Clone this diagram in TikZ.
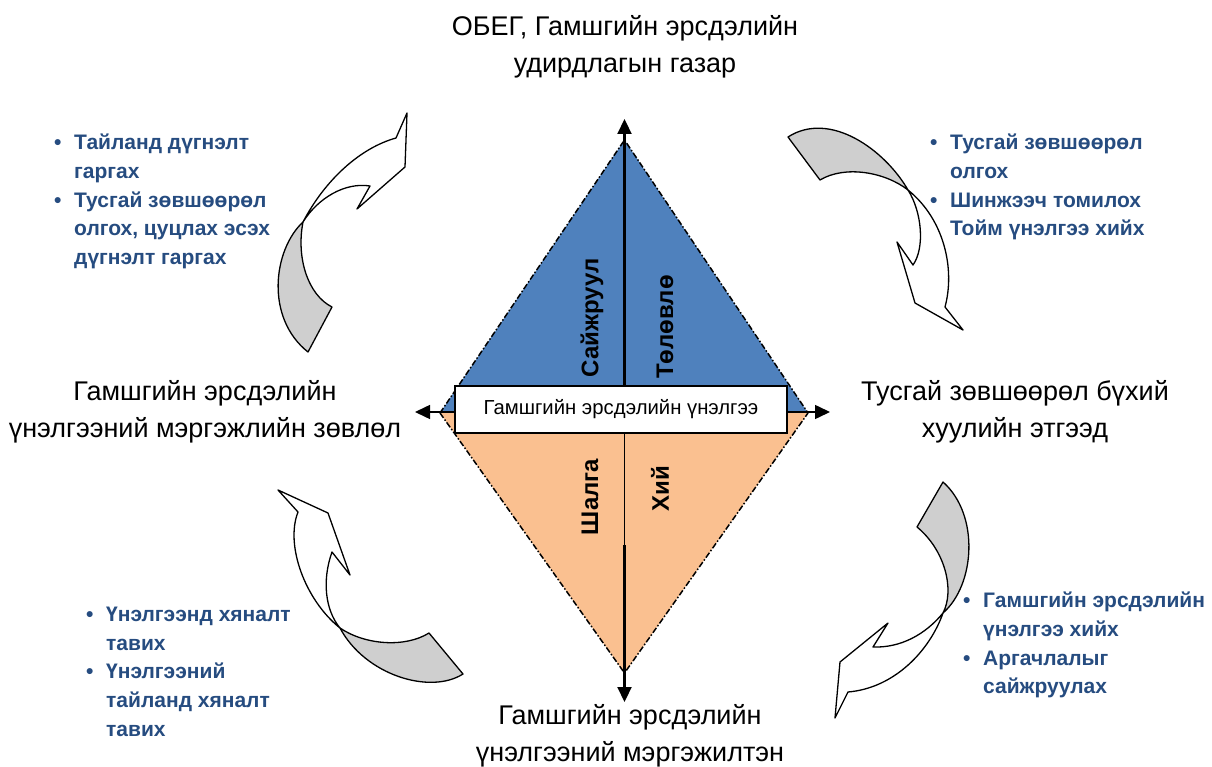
\documentclass[tikz,border=0pt]{standalone}
\usepackage{fontspec}
\setmainfont{Liberation Sans}
\usepackage{xcolor}
\usetikzlibrary{arrows.meta}

\definecolor{triblue}{HTML}{4F81BD}
\definecolor{triorange}{HTML}{FAC090}
\definecolor{listblue}{RGB}{38,76,128}
\definecolor{bentgray}{HTML}{CFCFCF}

\newcommand{\bul}{\makebox[20pt][l]{\textbullet}}
\newcommand{\nobul}{\hspace*{20pt}}

\begin{document}
\begin{tikzpicture}[x=1pt, y=-1pt,
  lbl/.style={align=center, font=\fontsize{27}{37}\selectfont},
  blist/.style={anchor=north west, inner sep=0pt, align=left, text=listblue,
    font=\fontsize{21}{28.6}\selectfont\bfseries},
  rotlbl/.style={rotate=90, font=\fontsize{24}{26}\selectfont\bfseries},
  edge/.style={line width=1.5pt, dash pattern=on 6pt off 2pt on 1.5pt off 2pt},
  axis/.style={line width=2.2pt, -{Triangle[length=15pt,width=14pt]}},
  bent/.style={draw, line width=1.3pt, line join=round}]
  \useasboundingbox (0,0) rectangle (1212,767);

  \coordinate (dtop) at (624.5,140);
  \coordinate (dleft) at (440,413);
  \coordinate (dright) at (808,413);
  \coordinate (dbot) at (624.5,673);
  \coordinate (vtop) at (624.5,119);
  \coordinate (vmid) at (624.5,545);
  \coordinate (vbot) at (624.5,702);
  \coordinate (hl) at (415,412);
  \coordinate (hr) at (830,412);

  \fill[triblue] (dtop) -- (dleft) -- (dright) -- cycle;
  \fill[triorange] (dleft) -- (dbot) -- (dright) -- cycle;
  \draw[edge] (dleft) -- (dtop) -- (dright);
  \draw[edge] (dleft) -- (dbot) -- (dright);

  \draw[line width=1.5pt, {Triangle[length=15pt,width=14pt]}-{Triangle[length=15pt,width=14pt]}] (hl) -- (hr);

  \node[draw, fill=white, line width=1.2pt, minimum width=332pt, minimum height=47pt,
    font=\fontsize{20.3}{22}\selectfont] (box) at (621,409.5) {Гамшгийн эрсдэлийн үнэлгээ};

  \draw[axis] (box.north -| vtop) -- (vtop);
  \draw[line width=1pt] (box.south -| vmid) -- (vmid);
  \draw[axis] (vmid) -- (vbot);

  \node[rotlbl] (saij) at (592,318) {Сайжруул};
  \node[rotlbl] (tolov) at (665,327) {Төлөвлө};
  \node[rotlbl] (shalga) at (590,497) {Шалга};
  \node[rotlbl] (hii) at (660,489) {Хий};

  \node[lbl] (obeg) at (625,47) {ОБЕГ, Гамшгийн эрсдэлийн\\удирдлагын газар};
  \node[lbl] (zovlol) at (205,412) {Гамшгийн эрсдэлийн\\үнэлгээний мэргэжлийн зөвлөл};
  \node[lbl] (etgeed) at (1015,412) {Тусгай зөвшөөрөл бүхий\\хуулийн этгээд};
  \node[lbl] (mergejilten) at (630,736) {Гамшгийн эрсдэлийн\\үнэлгээний мэргэжилтэн};

  \node[blist] (tlist) at (54,134) {\bul Тайланд дүгнэлт\\\nobul гаргах\\\bul Тусгай зөвшөөрөл\\\nobul олгох, цуцлах эсэх\\\nobul дүгнэлт гаргах};
  \node[blist] (rlist) at (930,134) {\bul Тусгай зөвшөөрөл\\\nobul олгох\\\bul Шинжээч томилох\\\nobul Тойм үнэлгээ хийх};
  \node[blist] (blist) at (86,607) {\bul Үнэлгээнд хяналт\\\nobul тавих\\\bul Үнэлгээний\\\nobul тайланд хяналт\\\nobul тавих};
  \node[blist] (brlist) at (963,592) {\bul Гамшгийн эрсдэлийн\\\nobul үнэлгээ хийх\\\bul Аргачлалыг\\\nobul сайжруулах};

  % bent arrows
  \filldraw[bent, fill=bentgray] (303,222) .. controls (273,250) and (265,318) .. (308,352)
    -- (332,307) .. controls (308,295) and (296,258) .. (303,222) -- cycle;
  \filldraw[bent, fill=white] (303,222) .. controls (325,180) and (360,148) .. (396,138)
    -- (407,113) -- (405,167) -- (357,209) -- (370,186)
    .. controls (345,182) and (318,198) .. (303,222) -- cycle;

  \filldraw[bent, fill=bentgray] (788,137) .. controls (830,110) and (885,150) .. (908,190)
    .. controls (885,172) and (845,165) .. (820,180) -- cycle;
  \filldraw[bent, fill=white] (908,190) .. controls (922,212) and (925,248) .. (913,265)
    -- (897,242) -- (915,303) -- (963,330) -- (945,307)
    .. controls (955,270) and (945,220) .. (908,190) -- cycle;

  \filldraw[bent, fill=white] (340,628) .. controls (305,600) and (285,545) .. (298,512)
    -- (278,490) -- (328,513) -- (350,575) -- (332,552)
    .. controls (322,580) and (325,610) .. (340,628) -- cycle;
  \filldraw[bent, fill=bentgray] (340,628) .. controls (365,645) and (405,648) .. (429,633)
    -- (463,674) .. controls (430,695) and (365,675) .. (340,628) -- cycle;

  \filldraw[bent, fill=bentgray] (943,482) .. controls (980,515) and (975,585) .. (943,613)
    .. controls (955,590) and (945,550) .. (917,527) -- cycle;
  \filldraw[bent, fill=white] (943,613) .. controls (925,635) and (900,648) .. (873,647)
    -- (888,623) -- (840,662) -- (835,718) -- (848,692)
    .. controls (895,688) and (930,650) .. (943,613) -- cycle;
\end{tikzpicture}
\end{document}
